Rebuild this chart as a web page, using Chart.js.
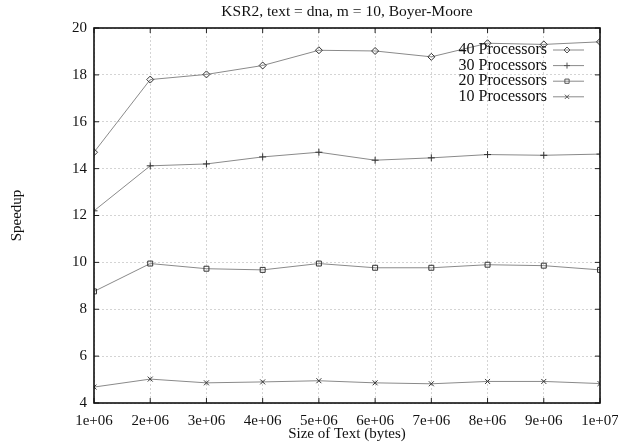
<!DOCTYPE html>
<html>
<head>
<meta charset="utf-8">
<title>KSR2 speedup</title>
<script src="https://cdn.jsdelivr.net/npm/chart.js@4/dist/chart.umd.min.js"></script>
<style>
  html, body { margin: 0; padding: 0; background: #fff; }
  #wrap { width: 618px; height: 445px; }
</style>
</head>
<body>
<div id="wrap"><canvas id="speedup-chart" width="618" height="445"></canvas></div>
<script>
// text sizes in bytes
const sizes = [1e6, 2e6, 3e6, 4e6, 5e6, 6e6, 7e6, 8e6, 9e6, 1e7];

// speedup per processor count
const p40 = [14.7, 17.8, 18.02, 18.4, 19.05, 19.02, 18.77, 19.35, 19.3, 19.41];
const p30 = [12.2, 14.12, 14.2, 14.5, 14.7, 14.36, 14.46, 14.6, 14.57, 14.62];
const p20 = [8.76, 9.95, 9.73, 9.68, 9.95, 9.77, 9.77, 9.9, 9.86, 9.68];
const p10 = [4.68, 5.02, 4.86, 4.9, 4.95, 4.86, 4.82, 4.92, 4.92, 4.83];

const seriesNames = ['40 Processors', '30 Processors', '20 Processors', '10 Processors'];
const markers = ['rectRot', 'cross', 'rect', 'crossRot'];

const yTicks = [4, 6, 8, 10, 12, 14, 16, 18, 20];

const chartTitle = 'KSR2, text = dna, m = 10, Boyer-Moore';

const serif = "'Liberation Serif', 'DejaVu Serif', serif";

function toPoints(vals) {
    return vals.map((v, i) => ({ x: sizes[i], y: v }));
}

function fmtSci(v) {
    const exp = Math.floor(Math.log10(v) + 1e-9);
    const mant = Math.round(v / Math.pow(10, exp));
    return mant + 'e+' + String(exp).padStart(2, '0');
}

// gnuplot style frame with inward ticks on all four sides, title over the plot
const framePlugin = {
    id: 'frame',
    afterDatasetsDraw(chart) {
        const { ctx, chartArea: a, scales } = chart;
        ctx.save();
        ctx.strokeStyle = '#222';
        ctx.lineWidth = 1;
        const t = 5;
        ctx.beginPath();
        sizes.forEach(v => {
            const x = scales.x.getPixelForValue(v);
            ctx.moveTo(x, a.bottom); ctx.lineTo(x, a.bottom - t);
            ctx.moveTo(x, a.top); ctx.lineTo(x, a.top + t);
        });
        yTicks.forEach(v => {
            const y = scales.y.getPixelForValue(v);
            ctx.moveTo(a.left, y); ctx.lineTo(a.left + t, y);
            ctx.moveTo(a.right, y); ctx.lineTo(a.right - t, y);
        });
        ctx.stroke();
        ctx.lineWidth = 1.6;
        ctx.strokeStyle = '#111';
        ctx.strokeRect(a.left, a.top, a.right - a.left, a.bottom - a.top);

        ctx.fillStyle = '#111';
        ctx.font = '15.5px ' + serif;
        ctx.textAlign = 'center';
        ctx.textBaseline = 'middle';
        ctx.fillText(chartTitle, (a.left + a.right) / 2, 12);
        ctx.restore();
    }
};

// legend inside the plot, text on the left, sample on the right
const keyPlugin = {
    id: 'key',
    afterDraw(chart) {
        const { ctx, chartArea: a } = chart;
        const textRight = a.right - 53;
        const x0 = a.right - 47, x1 = a.right - 16, xm = a.right - 33;
        ctx.save();
        ctx.font = '16px ' + serif;
        ctx.textAlign = 'right';
        ctx.textBaseline = 'middle';
        chart.data.datasets.forEach((ds, i) => {
            const y = a.top + 22 + i * 15.6;
            ctx.fillStyle = '#111';
            ctx.fillText(ds.label, textRight, y);
            ctx.strokeStyle = ds.borderColor;
            ctx.lineWidth = 1;
            ctx.beginPath();
            ctx.moveTo(x0, y); ctx.lineTo(x1, y);
            ctx.stroke();
            ctx.strokeStyle = '#555';
            ctx.fillStyle = 'rgba(0,0,0,0)';
            Chart.helpers.drawPoint(ctx, {
                pointStyle: ds.pointStyle, radius: 3,
                rotation: 0, borderWidth: 0.8
            }, xm, y);
        });
        ctx.restore();
    }
};

const allSeries = [p40, p30, p20, p10];

const ctx = document.getElementById('speedup-chart').getContext('2d');
new Chart(ctx, {
    type: 'line',
    data: {
        datasets: allSeries.map((vals, i) => ({
            label: seriesNames[i],
            data: toPoints(vals),
            borderColor: '#8a8a8a',
            borderWidth: 1,
            pointStyle: markers[i],
            pointRadius: 3.5,
            pointBorderColor: '#333',
            pointBorderWidth: 1,
            pointBackgroundColor: 'rgba(0,0,0,0)',
            tension: 0
        }))
    },
    options: {
        responsive: false,
        animation: false,
        layout: { padding: { left: 0, right: 18, top: 28, bottom: 0 } },
        plugins: {
            legend: { display: false },
            tooltip: { enabled: false },
            title: { display: false }
        },
        scales: {
            x: {
                type: 'linear',
                min: 1e6,
                max: 1e7,
                afterFit(scale) {
                    scale.height = 42;
                    scale.paddingLeft = 0;
                    scale.paddingRight = 0;
                },
                afterBuildTicks(scale) { scale.ticks = sizes.map(v => ({ value: v })); },
                ticks: {
                    color: '#111',
                    font: { family: serif, size: 15 },
                    padding: 9,
                    maxRotation: 0,
                    callback: v => fmtSci(v)
                },
                grid: { color: '#d4d4d4', drawTicks: false, lineWidth: 1 },
                border: { display: false, dash: [2, 2] },
                title: {
                    display: true,
                    text: 'Size of Text (bytes)',
                    color: '#111',
                    font: { family: serif, size: 15 },
                    padding: { top: 0, bottom: 2 }
                }
            },
            y: {
                min: 4,
                max: 20,
                afterFit(scale) {
                    scale.width = 94;
                    scale.paddingTop = 0;
                    scale.paddingBottom = 0;
                },
                afterBuildTicks(scale) { scale.ticks = yTicks.map(v => ({ value: v })); },
                ticks: {
                    color: '#111',
                    font: { family: serif, size: 15 },
                    padding: 7
                },
                grid: { color: '#d4d4d4', drawTicks: false, lineWidth: 1 },
                border: { display: false, dash: [2, 2] },
                title: {
                    display: true,
                    text: 'Speedup',
                    color: '#111',
                    font: { family: serif, size: 15 },
                    padding: { top: 8, bottom: 0 }
                }
            }
        }
    },
    plugins: [framePlugin, keyPlugin]
});
</script>
</body>
</html>
